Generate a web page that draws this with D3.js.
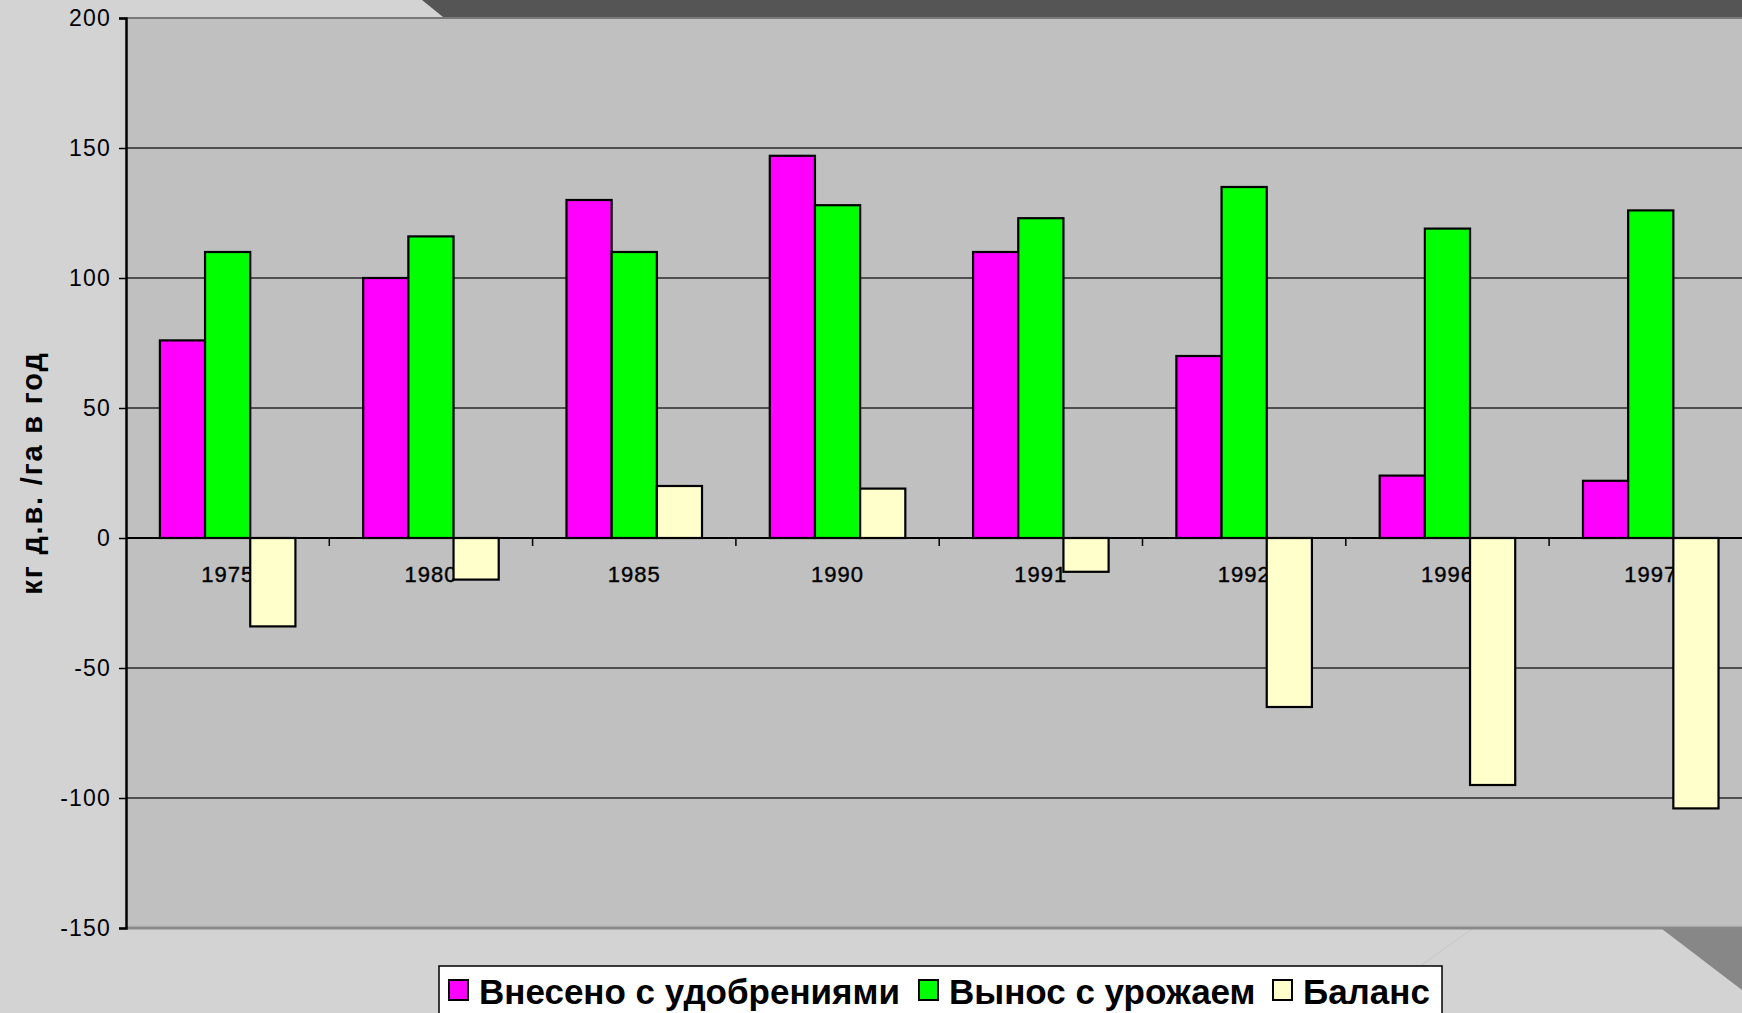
<!DOCTYPE html>
<html>
<head>
<meta charset="utf-8">
<script src="https://cdn.jsdelivr.net/npm/d3@7"></script>
<style>
  body { margin: 0; background: #d3d3d3; overflow: hidden; }
  svg { display: block; font-family: "Liberation Sans", Arial, sans-serif; }
</style>
</head>
<body>
<div id="graphContainer"></div>
<script>
var years = ["1975", "1980", "1985", "1990", "1991", "1992", "1996", "1997"]
var applied = [76, 100, 130, 147, 110, 70, 24, 22]
var removed = [110, 116, 110, 128, 123, 135, 119, 126]
var balance = [-34, -16, 20, 19, -13, -65, -95, -104]
var yTicks = [-150, -100, -50, 0, 50, 100, 150, 200]
var seriesNames = ["Внесено с удобрениями", "Вынос с урожаем", "Баланс"]
var seriesColors = ["#ff00ff", "#00ff00", "#ffffcc"]
var yTitle = "кг д.в. /га в год"

var W = 1742, H = 1013;
var margin = {top: 18, left: 126, bottom: 85}
var plotRight = margin.left + 8 * 203.3
var plotBottom = H - margin.bottom

var series = [applied, removed, balance]

var svg = d3.select("#graphContainer").append("svg")
  .attr("width", W)
  .attr("height", H)

svg.append("rect")
  .attr("width", W).attr("height", H)
  .attr("fill", "#d3d3d3")

// dark band along the top and the triangle at bottom right
svg.append("polygon")
  .attr("points", "422,0 " + W + ",0 " + W + ",17 443,17")
  .attr("fill", "#555555")
svg.append("polygon")
  .attr("points", "1662," + (plotBottom + 1) + " " + W + "," + (plotBottom + 1) + " " + W + ",990")
  .attr("fill", "#878787")
svg.append("line")
  .attr("x1", 1472).attr("y1", plotBottom + 1)
  .attr("x2", 1420).attr("y2", 966)
  .attr("stroke", "#c6c6c6").attr("stroke-width", 1)

var x = d3.scaleBand().domain(years).range([margin.left, plotRight]).padding(0)
var bw = x.bandwidth()
var x1 = d3.scaleBand().domain(d3.range(3)).range([bw / 6, bw * 5 / 6]).padding(0)
var y = d3.scaleLinear().domain([-150, 200]).range([plotBottom, margin.top])

svg.append("rect")
  .attr("x", margin.left).attr("y", margin.top)
  .attr("width", plotRight - margin.left).attr("height", plotBottom - margin.top)
  .attr("fill", "#c0c0c0")

svg.append("line")
  .attr("x1", margin.left).attr("x2", plotRight)
  .attr("y1", margin.top).attr("y2", margin.top)
  .attr("stroke", "#7a7a7a").attr("stroke-width", 2)
svg.append("line")
  .attr("x1", margin.left).attr("x2", plotRight)
  .attr("y1", plotBottom).attr("y2", plotBottom)
  .attr("stroke", "#8a8a8a").attr("stroke-width", 3)

svg.append("g")
  .selectAll("line")
  .data(yTicks.filter(function(d){ return d != 0 && d != 200 && d != -150 }))
  .enter().append("line")
    .attr("x1", margin.left).attr("x2", plotRight)
    .attr("y1", function(d){ return y(d) }).attr("y2", function(d){ return y(d) })
    .attr("stroke", "#2a2a2a").attr("stroke-width", 1.5)

// category labels sit under the bars
svg.append("g")
  .selectAll("text")
  .data(years)
  .enter().append("text")
    .attr("x", function(d){ return x(d) + bw / 2 })
    .attr("y", y(0) + 44)
    .attr("text-anchor", "middle")
    .attr("font-size", 22)
    .attr("letter-spacing", 1)
    .attr("fill", "#000")
    .attr("stroke", "#000").attr("stroke-width", 0.4)
    .text(function(d){ return d })

var groups = svg.append("g")
  .selectAll("g")
  .data(years)
  .enter().append("g")
    .attr("transform", function(d){ return "translate(" + x(d) + ",0)" })

groups.selectAll("rect")
  .data(function(d, i){ return series.map(function(s, k){ return {k: k, v: s[i]} }) })
  .enter().append("rect")
    .attr("x", function(d){ return x1(d.k) })
    .attr("width", x1.bandwidth())
    .attr("y", function(d){ return y(Math.max(0, d.v)) })
    .attr("height", function(d){ return Math.abs(y(d.v) - y(0)) })
    .attr("fill", function(d){ return seriesColors[d.k] })
    .attr("stroke", "#000")
    .attr("stroke-width", 2.2)

var xAxis = svg.append("g")
  .attr("transform", "translate(0," + y(0) + ")")
xAxis.append("line")
  .attr("x1", margin.left).attr("x2", plotRight)
  .attr("stroke", "#000").attr("stroke-width", 2)
xAxis.selectAll(".tick")
  .data(years.slice(1))
  .enter().append("line")
    .attr("x1", function(d){ return x(d) }).attr("x2", function(d){ return x(d) })
    .attr("y1", 0).attr("y2", 8)
    .attr("stroke", "#000").attr("stroke-width", 1.5)

svg.append("g")
  .attr("transform", "translate(" + margin.left + ",0)")
  .call(d3.axisLeft(y).tickValues(yTicks).tickSize(7).tickPadding(8)
    .tickFormat(function(d){ return String(d) }))
  .call(function(g){
    g.select(".domain").attr("stroke", "#000").attr("stroke-width", 2.5)
    g.selectAll(".tick line").attr("stroke", "#000").attr("stroke-width", 1.5)
    g.selectAll(".tick text")
      .attr("font-size", 23)
      .attr("letter-spacing", 1.2)
      .attr("fill", "#000")
      .attr("font-family", "Liberation Sans, Arial, sans-serif")
  })

svg.append("text")
  .attr("transform", "translate(32," + ((margin.top + plotBottom) / 2) + ") rotate(-90)")
  .attr("text-anchor", "middle")
  .attr("dy", "0.35em")
  .attr("font-size", 29)
  .attr("font-weight", "bold")
  .attr("letter-spacing", 1.8)
  .text(yTitle)

// legend
var legend = svg.append("g")
legend.append("rect")
  .attr("x", 439).attr("y", 966)
  .attr("width", 1003).attr("height", 60)
  .attr("fill", "#ffffff")
  .attr("stroke", "#000").attr("stroke-width", 1.5)

var legendX = [449, 919, 1273]
var items = legend.selectAll(".item")
  .data(seriesNames)
  .enter().append("g")
    .attr("transform", function(d, i){ return "translate(" + legendX[i] + ",0)" })
items.append("rect")
  .attr("x", 0).attr("y", 980)
  .attr("width", 19).attr("height", 20)
  .attr("fill", function(d, i){ return seriesColors[i] })
  .attr("stroke", "#000").attr("stroke-width", 2)
items.append("text")
  .attr("x", 30).attr("y", 1004)
  .attr("font-size", 35)
  .attr("font-weight", "bold")
  .attr("fill", "#000")
  .text(function(d){ return d })
</script>
</body>
</html>
